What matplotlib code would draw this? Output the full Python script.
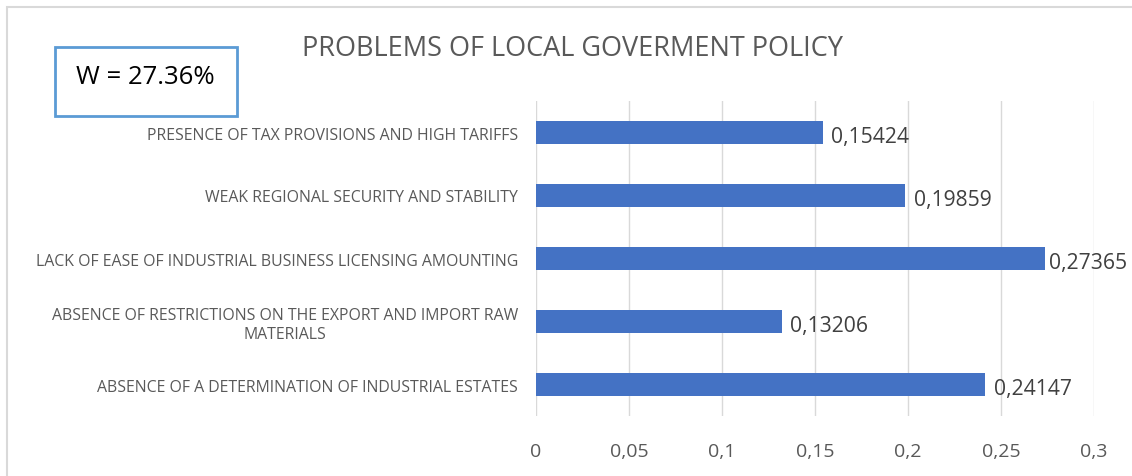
import matplotlib.pyplot as plt
from matplotlib.patches import Rectangle
from matplotlib.ticker import FuncFormatter

categories = [
    "ABSENCE OF A DETERMINATION OF INDUSTRIAL ESTATES",
    "ABSENCE OF RESTRICTIONS ON THE EXPORT AND IMPORT RAW\nMATERIALS",
    "LACK OF EASE OF INDUSTRIAL BUSINESS LICENSING AMOUNTING",
    "WEAK REGIONAL SECURITY AND STABILITY",
    "PRESENCE OF TAX PROVISIONS AND HIGH TARIFFS",
]
values = [0.24147, 0.13206, 0.27365, 0.19859, 0.15424]
value_labels = ["0,24147", "0,13206", "0,27365", "0,19859", "0,15424"]
xticks = [0, 0.05, 0.1, 0.15, 0.2, 0.25, 0.3]

plt.rcParams['font.family'] = ['Open Sans', 'DejaVu Sans']
grey = '#595959'

fig = plt.figure(figsize=(11.32, 4.77), dpi=100)
ax = fig.add_axes([536 / 1132, 1 - 417 / 477, (1094 - 536) / 1132, 315 / 477])

y = range(len(categories))
ax.barh(y, values, height=0.36, color='#4472C4', zorder=3)
for i, v in enumerate(values):
    # keep the labels inside the chart area, as Excel does
    lx = min(v + 0.0045, 0.2757)
    ax.text(lx, i - 0.06, value_labels[i], va='center', ha='left',
            fontsize=15.2, color='#404040')

ax.set_xlim(0, 0.3)
ax.set_ylim(-0.5, len(categories) - 0.5)
ax.set_xticks(xticks)
ax.xaxis.set_major_formatter(FuncFormatter(lambda x, p: ('%g' % x).replace('.', ',')))
ax.set_yticks(list(y))
ax.set_yticklabels(categories)
for lab in ax.get_yticklabels():
    lab.set_multialignment('center')
ax.tick_params(axis='y', length=0, labelsize=11.4, labelcolor=grey, pad=13)
ax.tick_params(axis='x', length=0, labelsize=14, labelcolor=grey, pad=19)
ax.grid(axis='x', color='#D9D9D9', linewidth=1, zorder=0)
for s in ax.spines.values():
    s.set_visible(False)

fig.text(572 / 1132, 1 - 49 / 477, "PROBLEMS OF LOCAL GOVERMENT POLICY",
         ha='center', va='center', fontsize=19.5, color=grey)

# outer chart border
fig.patches.append(Rectangle((7 / 1132, -0.1), 1.2, 1 - 8 / 477 + 0.1,
                             transform=fig.transFigure, fill=False,
                             edgecolor='#D9D9D9', linewidth=1.5))
# W box
fig.patches.append(Rectangle((55 / 1132, 1 - 117 / 477), 182 / 1132, 69 / 477,
                             transform=fig.transFigure, fill=False,
                             edgecolor='#5B9BD5', linewidth=2))
fig.text(145 / 1132, 1 - 78 / 477, "W = 27.36%", ha='center', va='center',
         fontsize=18.5, color='black')

plt.savefig('out.png', dpi=100)
